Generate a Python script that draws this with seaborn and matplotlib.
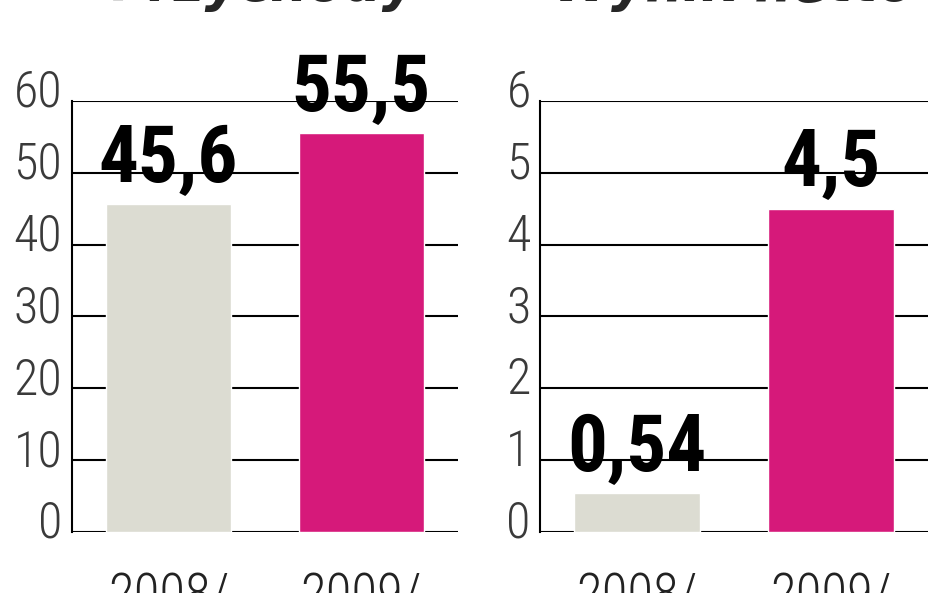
import matplotlib
matplotlib.use("Agg")
import matplotlib.pyplot as plt
import matplotlib.transforms as mtransforms
from matplotlib import font_manager
import seaborn as sns

# data
periods = ["2008/\n2009", "2009/\n2010"]
revenue = [45.6, 55.5]
net_result = [0.54, 4.5]
revenue_labels = ["45,6", "55,5"]
net_labels = ["0,54", "4,5"]
titles = ["Przychody", "Wynik netto"]
colors = ["#dcdcd2", "#d6197a"]

# pick a narrow font if one is installed
fonts = font_manager.fontManager.ttflist
names = {f.name for f in fonts}
narrow = None
stretch = "normal"
for cand in ["Roboto Condensed", "Liberation Sans Narrow", "Open Sans Condensed",
             "Noto Sans Condensed", "DejaVu Sans Condensed"]:
    if cand in names:
        narrow = cand
        break
if narrow is None:
    if any(f.name == "DejaVu Sans" and f.stretch in ("condensed", "semi-condensed")
           for f in fonts):
        narrow = "DejaVu Sans"
        stretch = "condensed"
    else:
        narrow = "DejaVu Sans"

sns.set_style("white")
plt.rcParams["font.family"] = [narrow, "DejaVu Sans"]
plt.rcParams["font.stretch"] = stretch

fig = plt.figure(figsize=(9.48, 5.93), dpi=100)
ax1 = fig.add_axes([0.076, 0.103, 0.407, 0.727])
ax2 = fig.add_axes([0.570, 0.103, 0.409, 0.727])

panels = [
    (ax1, revenue, revenue_labels, 60, 10),
    (ax2, net_result, net_labels, 6, 1),
]

for ax, vals, labs, top, step in panels:
    sns.barplot(x=periods, y=vals, hue=periods, palette=colors, width=0.65,
                saturation=1, legend=False, ax=ax, zorder=3)
    ax.set_xlim(-0.5, 1.5)
    ax.set_ylim(0, top)
    ticks = list(range(0, top + 1, step))
    ax.set_yticks(ticks)
    ax.set_yticklabels([str(t) for t in ticks])
    ax.yaxis.grid(True, color="black", lw=1.5)
    ax.set_axisbelow(True)
    for s in ["top", "right", "bottom"]:
        ax.spines[s].set_visible(False)
    ax.spines["left"].set_color("black")
    ax.spines["left"].set_linewidth(1.5)
    ax.tick_params(axis="both", length=0)
    ax.tick_params(axis="y", pad=7, labelsize=36, labelcolor="#3a3a3a")
    ax.tick_params(axis="x", pad=28, labelsize=38, labelcolor="#222222")
    ax.set_xlabel("")
    ax.set_ylabel("")
    shift = mtransforms.ScaledTranslation(0, -0.06, fig.dpi_scale_trans)
    for lab in ax.get_yticklabels():
        lab.set_va("baseline")
        lab.set_fontweight("light")
        lab.set_transform(lab.get_transform() + shift)
    for lab in ax.get_xticklabels():
        lab.set_va("top")
        lab.set_fontweight("light")
        lab.set_linespacing(1.0)
    for i, (v, t) in enumerate(zip(vals, labs)):
        ax.annotate(t, (i, v), xytext=(0, 16), textcoords="offset points",
                    ha="center", va="baseline", fontsize=57,
                    fontweight="bold", color="black", zorder=4)

for ax, title in zip([ax1, ax2], titles):
    pos = ax.get_position()
    fig.text((pos.x0 + pos.x1) / 2, 0.999, title, ha="center", va="baseline",
             fontsize=38, fontweight="bold", fontstyle="italic",
             family=["DejaVu Sans"], stretch="normal")

fig.savefig("out.png", dpi=100)
